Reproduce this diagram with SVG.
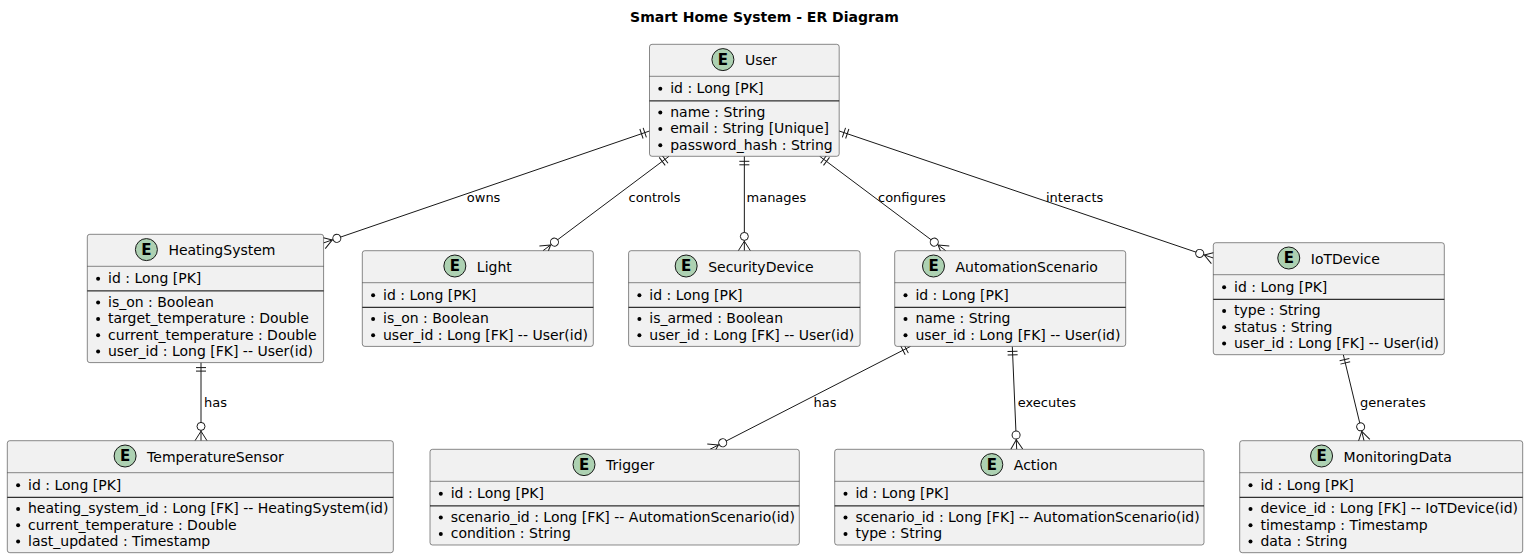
<svg xmlns="http://www.w3.org/2000/svg" width="1529" height="560" viewBox="0 0 1529 560">
<style>
text{font-family:"DejaVu Sans","Noto Sans",sans-serif;fill:#000}
.box{fill:#F1F1F1;stroke:#181818;stroke-width:0.5}
.hl{stroke:#181818;stroke-width:0.5}
.sep{stroke:#000;stroke-width:1}
.circ{fill:#ADD1B2;stroke:#181818;stroke-width:1}
.E{font-size:15px;font-weight:bold;text-anchor:middle}
.nm{font-size:14px}
.at{font-size:14px}
.dot{fill:#000}
.lbl{font-size:13px}
.title{font-size:14px;font-weight:bold;text-anchor:middle}
.conn line{stroke:#181818;stroke-width:1;fill:none;marker-start:url(#one);marker-end:url(#many)}
</style>
<defs>
<marker id="one" markerUnits="userSpaceOnUse" markerWidth="40" markerHeight="40" viewBox="-20 -20 40 40" refX="0" refY="0" orient="auto" overflow="visible">
<path d="M5,-5V5M8.5,-5V5" stroke="#181818" stroke-width="1" fill="none"/>
</marker>
<marker id="many" markerUnits="userSpaceOnUse" markerWidth="40" markerHeight="40" viewBox="-20 -20 40 40" refX="0" refY="0" orient="auto" overflow="visible">
<path d="M-9.5,0L0,-6M-9.5,0L0,6" stroke="#181818" stroke-width="1" fill="none"/>
<circle cx="-14.3" cy="0" r="4" fill="#FFFFFF" stroke="#181818" stroke-width="1"/>
</marker>
</defs>
<rect width="1529" height="560" fill="#FFFFFF"/>
<text class="title" x="764.5" y="22">Smart Home System - ER Diagram</text>

<g id="connectors" class="conn">
<line x1="649.5" y1="131" x2="323.3" y2="243"/>
<line x1="669" y1="156.3" x2="543" y2="250.7"/>
<line x1="744.35" y1="156.3" x2="744.35" y2="250.7"/>
<line x1="819.7" y1="156.3" x2="945.7" y2="250.7"/>
<line x1="839.2" y1="131" x2="1213.3" y2="258"/>
<line x1="201" y1="362.6" x2="201" y2="440.7"/>
<line x1="910.5" y1="346.4" x2="710" y2="449.3"/>
<line x1="1012.3" y1="346.4" x2="1016.7" y2="449.3"/>
<line x1="1343.3" y1="354.7" x2="1364" y2="440.7"/>
<text class="lbl" x="466.8" y="201.5">owns</text>
<text class="lbl" x="628.6" y="201.5">controls</text>
<text class="lbl" x="746.5" y="201.5">manages</text>
<text class="lbl" x="878" y="201.5">configures</text>
<text class="lbl" x="1046" y="201.5">interacts</text>
<text class="lbl" x="204" y="407">has</text>
<text class="lbl" x="813.5" y="407">has</text>
<text class="lbl" x="1017.7" y="407">executes</text>
<text class="lbl" x="1360" y="407">generates</text>
</g>

<g id="User">
<rect class="box" x="649.5" y="44.3" width="189.7" height="112" rx="2.5"/>
<line class="hl" x1="649.5" y1="76.3" x2="839.2" y2="76.3"/>
<circle class="circ" cx="722.9" cy="59.6" r="11"/>
<text class="E" x="722.9" y="64.9">E</text>
<text class="nm" x="744.9" y="65.1">User</text>
<circle class="dot" cx="660.3" cy="88.8" r="2"/>
<text class="at" x="670.2" y="93.1">id : Long [PK]</text>
<line class="sep" x1="649.5" y1="100.9" x2="839.2" y2="100.9"/>
<circle class="dot" cx="660.3" cy="112.6" r="2"/>
<text class="at" x="670.2" y="116.9">name : String</text>
<circle class="dot" cx="660.3" cy="128.9" r="2"/>
<text class="at" x="670.2" y="133.2">email : String [Unique]</text>
<circle class="dot" cx="660.3" cy="145.2" r="2"/>
<text class="at" x="670.2" y="149.5">password_hash : String</text>
</g>

<g id="HeatingSystem">
<rect class="box" x="87.3" y="234.3" width="236.3" height="128.3" rx="2.5"/>
<line class="hl" x1="87.3" y1="266.3" x2="323.6" y2="266.3"/>
<circle class="circ" cx="146.4" cy="249.6" r="11"/>
<text class="E" x="146.4" y="254.9">E</text>
<text class="nm" x="168.4" y="255.1">HeatingSystem</text>
<circle class="dot" cx="98.1" cy="278.8" r="2"/>
<text class="at" x="108" y="283.1">id : Long [PK]</text>
<line class="sep" x1="87.3" y1="290.9" x2="323.6" y2="290.9"/>
<circle class="dot" cx="98.1" cy="302.6" r="2"/>
<text class="at" x="108" y="306.9">is_on : Boolean</text>
<circle class="dot" cx="98.1" cy="318.9" r="2"/>
<text class="at" x="108" y="323.2">target_temperature : Double</text>
<circle class="dot" cx="98.1" cy="335.2" r="2"/>
<text class="at" x="108" y="339.5">current_temperature : Double</text>
<circle class="dot" cx="98.1" cy="351.5" r="2"/>
<text class="at" x="108" y="355.8">user_id : Long [FK] -- User(id)</text>
</g>

<g id="Light">
<rect class="box" x="362.3" y="250.7" width="231" height="95.7" rx="2.5"/>
<line class="hl" x1="362.3" y1="282.7" x2="593.3" y2="282.7"/>
<circle class="circ" cx="454.85" cy="266" r="11"/>
<text class="E" x="454.85" y="271.3">E</text>
<text class="nm" x="476.85" y="271.5">Light</text>
<circle class="dot" cx="373.1" cy="295.2" r="2"/>
<text class="at" x="383" y="299.5">id : Long [PK]</text>
<line class="sep" x1="362.3" y1="307.3" x2="593.3" y2="307.3"/>
<circle class="dot" cx="373.1" cy="319" r="2"/>
<text class="at" x="383" y="323.3">is_on : Boolean</text>
<circle class="dot" cx="373.1" cy="335.3" r="2"/>
<text class="at" x="383" y="339.6">user_id : Long [FK] -- User(id)</text>
</g>

<g id="SecurityDevice">
<rect class="box" x="628.6" y="250.7" width="231.5" height="95.7" rx="2.5"/>
<line class="hl" x1="628.6" y1="282.7" x2="860.1" y2="282.7"/>
<circle class="circ" cx="686.15" cy="266" r="11"/>
<text class="E" x="686.15" y="271.3">E</text>
<text class="nm" x="708.15" y="271.5">SecurityDevice</text>
<circle class="dot" cx="639.4" cy="295.2" r="2"/>
<text class="at" x="649.3" y="299.5">id : Long [PK]</text>
<line class="sep" x1="628.6" y1="307.3" x2="860.1" y2="307.3"/>
<circle class="dot" cx="639.4" cy="319" r="2"/>
<text class="at" x="649.3" y="323.3">is_armed : Boolean</text>
<circle class="dot" cx="639.4" cy="335.3" r="2"/>
<text class="at" x="649.3" y="339.6">user_id : Long [FK] -- User(id)</text>
</g>

<g id="AutomationScenario">
<rect class="box" x="894.7" y="250.7" width="231" height="95.7" rx="2.5"/>
<line class="hl" x1="894.7" y1="282.7" x2="1125.7" y2="282.7"/>
<circle class="circ" cx="933.5" cy="266" r="11"/>
<text class="E" x="933.5" y="271.3">E</text>
<text class="nm" x="955.5" y="271.5">AutomationScenario</text>
<circle class="dot" cx="905.5" cy="295.2" r="2"/>
<text class="at" x="915.4" y="299.5">id : Long [PK]</text>
<line class="sep" x1="894.7" y1="307.3" x2="1125.7" y2="307.3"/>
<circle class="dot" cx="905.5" cy="319" r="2"/>
<text class="at" x="915.4" y="323.3">name : String</text>
<circle class="dot" cx="905.5" cy="335.3" r="2"/>
<text class="at" x="915.4" y="339.6">user_id : Long [FK] -- User(id)</text>
</g>

<g id="IoTDevice">
<rect class="box" x="1213.3" y="242.7" width="231" height="112" rx="2.5"/>
<line class="hl" x1="1213.3" y1="274.7" x2="1444.3" y2="274.7"/>
<circle class="circ" cx="1288.75" cy="258" r="11"/>
<text class="E" x="1288.75" y="263.3">E</text>
<text class="nm" x="1310.75" y="263.5">IoTDevice</text>
<circle class="dot" cx="1224.1" cy="287.2" r="2"/>
<text class="at" x="1234" y="291.5">id : Long [PK]</text>
<line class="sep" x1="1213.3" y1="299.3" x2="1444.3" y2="299.3"/>
<circle class="dot" cx="1224.1" cy="311" r="2"/>
<text class="at" x="1234" y="315.3">type : String</text>
<circle class="dot" cx="1224.1" cy="327.3" r="2"/>
<text class="at" x="1234" y="331.6">status : String</text>
<circle class="dot" cx="1224.1" cy="343.6" r="2"/>
<text class="at" x="1234" y="347.9">user_id : Long [FK] -- User(id)</text>
</g>

<g id="TemperatureSensor">
<rect class="box" x="7.3" y="440.7" width="386" height="112" rx="2.5"/>
<line class="hl" x1="7.3" y1="472.7" x2="393.3" y2="472.7"/>
<circle class="circ" cx="125.1" cy="456" r="11"/>
<text class="E" x="125.1" y="461.3">E</text>
<text class="nm" x="147.1" y="461.5">TemperatureSensor</text>
<circle class="dot" cx="18.1" cy="485.2" r="2"/>
<text class="at" x="28" y="489.5">id : Long [PK]</text>
<line class="sep" x1="7.3" y1="497.3" x2="393.3" y2="497.3"/>
<circle class="dot" cx="18.1" cy="509" r="2"/>
<text class="at" x="28" y="513.3">heating_system_id : Long [FK] -- HeatingSystem(id)</text>
<circle class="dot" cx="18.1" cy="525.3" r="2"/>
<text class="at" x="28" y="529.6">current_temperature : Double</text>
<circle class="dot" cx="18.1" cy="541.6" r="2"/>
<text class="at" x="28" y="545.9">last_updated : Timestamp</text>
</g>

<g id="Trigger">
<rect class="box" x="430" y="449.3" width="369.3" height="95.7" rx="2.5"/>
<line class="hl" x1="430" y1="481.3" x2="799.3" y2="481.3"/>
<circle class="circ" cx="584" cy="464.6" r="11"/>
<text class="E" x="584" y="469.9">E</text>
<text class="nm" x="606" y="470.1">Trigger</text>
<circle class="dot" cx="440.8" cy="493.8" r="2"/>
<text class="at" x="450.7" y="498.1">id : Long [PK]</text>
<line class="sep" x1="430" y1="505.9" x2="799.3" y2="505.9"/>
<circle class="dot" cx="440.8" cy="517.6" r="2"/>
<text class="at" x="450.7" y="521.9">scenario_id : Long [FK] -- AutomationScenario(id)</text>
<circle class="dot" cx="440.8" cy="533.9" r="2"/>
<text class="at" x="450.7" y="538.2">condition : String</text>
</g>

<g id="Action">
<rect class="box" x="834.7" y="449.3" width="369.3" height="95.7" rx="2.5"/>
<line class="hl" x1="834.7" y1="481.3" x2="1204" y2="481.3"/>
<circle class="circ" cx="991.8" cy="464.6" r="11"/>
<text class="E" x="991.8" y="469.9">E</text>
<text class="nm" x="1013.8" y="470.1">Action</text>
<circle class="dot" cx="845.5" cy="493.8" r="2"/>
<text class="at" x="855.4" y="498.1">id : Long [PK]</text>
<line class="sep" x1="834.7" y1="505.9" x2="1204" y2="505.9"/>
<circle class="dot" cx="845.5" cy="517.6" r="2"/>
<text class="at" x="855.4" y="521.9">scenario_id : Long [FK] -- AutomationScenario(id)</text>
<circle class="dot" cx="845.5" cy="533.9" r="2"/>
<text class="at" x="855.4" y="538.2">type : String</text>
</g>

<g id="MonitoringData">
<rect class="box" x="1239.7" y="440.7" width="283" height="112" rx="2.5"/>
<line class="hl" x1="1239.7" y1="472.7" x2="1522.7" y2="472.7"/>
<circle class="circ" cx="1321.55" cy="456" r="11"/>
<text class="E" x="1321.55" y="461.3">E</text>
<text class="nm" x="1343.55" y="461.5">MonitoringData</text>
<circle class="dot" cx="1250.5" cy="485.2" r="2"/>
<text class="at" x="1260.4" y="489.5">id : Long [PK]</text>
<line class="sep" x1="1239.7" y1="497.3" x2="1522.7" y2="497.3"/>
<circle class="dot" cx="1250.5" cy="509" r="2"/>
<text class="at" x="1260.4" y="513.3">device_id : Long [FK] -- IoTDevice(id)</text>
<circle class="dot" cx="1250.5" cy="525.3" r="2"/>
<text class="at" x="1260.4" y="529.6">timestamp : Timestamp</text>
<circle class="dot" cx="1250.5" cy="541.6" r="2"/>
<text class="at" x="1260.4" y="545.9">data : String</text>
</g>
</svg>
